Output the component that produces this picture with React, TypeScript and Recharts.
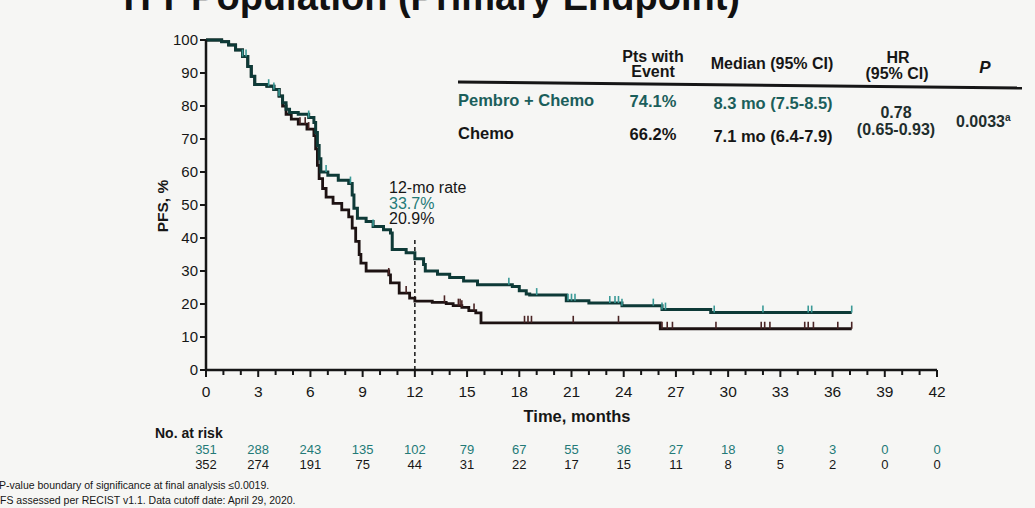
import { ComposedChart, Line, Scatter, XAxis, YAxis, ReferenceLine } from "recharts";

// Kaplan-Meier steps: [month, PFS %]
const pembroSteps: [number, number][] = [
  [0, 100], [0.9, 99.5], [1.3, 98.5], [1.7, 97], [2.1, 95], [2.4, 92], [2.6, 89], [2.8, 86.5],
  [3.5, 86], [3.9, 85], [4.2, 83], [4.4, 81], [4.6, 79], [4.8, 78], [5.3, 77.5], [5.9, 76.5],
  [6.2, 75], [6.3, 72], [6.4, 68], [6.5, 64], [6.6, 60], [7.0, 59], [7.6, 57.5], [8.2, 56.5],
  [8.4, 53], [8.5, 49], [8.7, 46], [9.2, 45], [9.6, 43.5], [10.2, 42.5], [10.6, 41.5],
  [10.7, 36.5], [11.5, 35.5], [12.0, 33.7], [12.5, 32], [12.6, 30], [13.3, 29], [14.0, 28],
  [14.8, 27], [15.6, 25.8], [17.6, 25.3], [18.0, 24], [18.4, 23], [18.6, 22.7], [20.7, 21],
  [22.0, 20.3], [23.9, 19.5], [26.2, 18.3], [29.0, 17.4], [37.1, 17.4],
];

const chemoSteps: [number, number][] = [
  [0, 100], [0.9, 99.5], [1.3, 98.5], [1.7, 97], [2.1, 95], [2.4, 92], [2.6, 89], [2.8, 86.5],
  [3.5, 86], [3.9, 85], [4.2, 83], [4.4, 80], [4.6, 77.5], [4.9, 76], [5.3, 74.5], [5.8, 73],
  [6.2, 71], [6.3, 67], [6.4, 62], [6.5, 58], [6.7, 55], [6.9, 52.4], [7.3, 50.5], [7.8, 48.5],
  [8.2, 46.4], [8.4, 43], [8.6, 39], [8.8, 35], [8.9, 32.4], [9.2, 30], [10.5, 28.8],
  [10.6, 26.4], [11.1, 23.3], [11.7, 21.8], [12.0, 20.9], [13.0, 20.5], [13.8, 20.1],
  [14.2, 19.5], [14.7, 19], [15.1, 18], [15.5, 17.3], [15.8, 14.3], [26.1, 12.5], [37.1, 12.5],
];

// censoring marks (months)
const pembroCensored = [
  2.1, 2.3, 3.6, 3.9, 4.2, 5.9, 6.9, 8.3, 9.6, 17.4, 19.0, 20.8, 21.0, 21.2, 23.2, 23.5,
  23.7, 23.9, 25.7, 26.2, 26.4, 29.2, 32.0, 34.6, 34.8, 37.1,
];
const chemoCensored = [
  5.4, 5.7, 5.9, 10.5, 11.5, 13.7, 14.5, 14.6, 14.7, 15.4, 18.3, 18.5, 18.7, 21.1, 23.7,
  26.2, 26.5, 26.8, 29.3, 31.9, 32.1, 32.4, 34.4, 34.6, 34.9, 36.3, 37.1,
];

const labelMonths = [0, 3, 6, 9, 12, 15, 18, 21, 24, 27, 30, 33, 36, 39, 42];
const riskPembro = [351, 288, 243, 135, 102, 79, 67, 55, 36, 27, 18, 9, 3, 0, 0];
const riskChemo = [352, 274, 191, 75, 44, 31, 22, 17, 15, 11, 8, 5, 2, 0, 0];
const yTicks = [0, 10, 20, 30, 40, 50, 60, 70, 80, 90, 100];

const TEAL = "#237a77";
const TEAL_DARK = "#1b5e5b";
const INK = "#161616";
const PLOT_BOTTOM = 370;

const allMonths = Array.from({ length: 43 }, (_, i) => i);

const toRows = (steps: [number, number][]) => steps.map(([t, v]) => ({ t, v }));

function survAt(steps: [number, number][], t: number) {
  let v = steps[0][1];
  for (const [st, sv] of steps) {
    if (st <= t) v = sv;
  }
  return v;
}

const pembroMarks = pembroCensored.map((t) => ({ t, v: survAt(pembroSteps, t) }));
const chemoMarks = chemoCensored.map((t) => ({ t, v: survAt(chemoSteps, t) }));

function MonthTick(props: any) {
  const { x, payload } = props;
  const m = payload.value;
  const idx = labelMonths.indexOf(m);
  const major = idx >= 0;
  return (
    <g>
      <line x1={x} x2={x} y1={PLOT_BOTTOM} y2={PLOT_BOTTOM + (major ? 7 : 5)} stroke={INK} strokeWidth={2} />
      {major && (
        <>
          <text x={x} y={PLOT_BOTTOM + 27} textAnchor="middle" fontSize={15.5} fill={INK}>
            {m}
          </text>
          <text x={x} y={PLOT_BOTTOM + 84} textAnchor="middle" fontSize={13} fill={TEAL}>
            {riskPembro[idx]}
          </text>
          <text x={x} y={PLOT_BOTTOM + 99} textAnchor="middle" fontSize={13} fill={INK}>
            {riskChemo[idx]}
          </text>
        </>
      )}
    </g>
  );
}

const censorShape = (color: string) => (p: any) => (
  <line x1={p.cx} x2={p.cx} y1={p.cy - 7} y2={p.cy} stroke={color} strokeWidth={1.6} />
);

export default function App() {
  return (
    <div
      style={{
        position: "fixed",
        top: 0,
        left: 0,
        width: 1035,
        height: 508,
        background: "#f6f6f4",
        fontFamily: "'Liberation Sans', Arial, sans-serif",
        overflow: "hidden",
      }}
    >
      <ComposedChart width={1035} height={508} margin={{ top: 40, right: 98, bottom: 108, left: 156 }}>
        <XAxis
          type="number"
          dataKey="t"
          domain={[0, 42]}
          ticks={allMonths}
          interval={0}
          tick={<MonthTick />}
          tickLine={false}
          axisLine={{ stroke: INK, strokeWidth: 2.5 }}
          height={30}
        />
        <YAxis
          type="number"
          dataKey="v"
          domain={[0, 100]}
          ticks={yTicks}
          width={50}
          tickSize={6}
          tick={{ fontSize: 15, fill: INK }}
          tickLine={{ stroke: INK, strokeWidth: 2 }}
          axisLine={{ stroke: INK, strokeWidth: 2.5 }}
        />
        <ReferenceLine
          segment={[{ x: 12, y: 0 }, { x: 12, y: 39.5 }]}
          stroke={INK}
          strokeWidth={1.5}
          strokeDasharray="4 3"
        />
        <Line
          data={toRows(chemoSteps)}
          dataKey="v"
          type="stepAfter"
          stroke="#1d1212"
          strokeWidth={2.8}
          dot={false}
          isAnimationActive={false}
        />
        <Line
          data={toRows(pembroSteps)}
          dataKey="v"
          type="stepAfter"
          stroke="#0e3a37"
          strokeWidth={3}
          dot={false}
          isAnimationActive={false}
        />
        <Scatter data={chemoMarks} dataKey="v" shape={censorShape("#4a2424")} isAnimationActive={false} />
        <Scatter data={pembroMarks} dataKey="v" shape={censorShape("#3b9a97")} isAnimationActive={false} />
      </ComposedChart>

      <svg width={1035} height={508} style={{ position: "absolute", top: 0, left: 0, pointerEvents: "none" }}>
        <text x={740} y={10} textAnchor="end" fontSize={38} fontWeight={700} fill="#111">
          ITT Population (Primary Endpoint)
        </text>

        {/* summary table */}
        <g fontWeight={700} fill={INK} fontSize={16}>
          <text x={653} y={62} textAnchor="middle">Pts with</text>
          <text x={653} y={77} textAnchor="middle">Event</text>
          <text x={772} y={69} textAnchor="middle">Median (95% CI)</text>
          <text x={898} y={63} textAnchor="middle">HR</text>
          <text x={897} y={79} textAnchor="middle">(95% CI)</text>
          <text x={985} y={73} textAnchor="middle" fontSize={17} fontStyle="italic">P</text>
        </g>
        <line x1={458} y1={82} x2={1022} y2={88} stroke={INK} strokeWidth={3} />
        <g fontWeight={700} fontSize={16.5}>
          <text x={458} y={106} fill={TEAL_DARK}>Pembro + Chemo</text>
          <text x={653} y={107} textAnchor="middle" fill={TEAL_DARK}>74.1%</text>
          <text x={773} y={109} textAnchor="middle" fill={TEAL_DARK}>8.3 mo (7.5-8.5)</text>
          <text x={458} y={139} fill={INK}>Chemo</text>
          <text x={653} y={140} textAnchor="middle" fill={INK}>66.2%</text>
          <text x={773} y={142} textAnchor="middle" fill={INK}>7.1 mo (6.4-7.9)</text>
        </g>
        <g fontWeight={700} fontSize={16} fill="#1f2e2d">
          <text x={896} y={118} textAnchor="middle">0.78</text>
          <text x={896} y={135} textAnchor="middle">(0.65-0.93)</text>
          <text x={956} y={127}>
            0.0033<tspan fontSize={10} dy={-6}>a</tspan>
          </text>
        </g>

        {/* 12-month annotation */}
        <g fontSize={16}>
          <text x={389} y={193} fill={INK}>12-mo rate</text>
          <text x={389} y={209} fill={TEAL}>33.7%</text>
          <text x={389} y={224} fill={INK}>20.9%</text>
        </g>

        <text
          x={168}
          y={206}
          transform="rotate(-90 168 206)"
          textAnchor="middle"
          fontSize={15.5}
          fontWeight={700}
          fill={INK}
        >
          PFS, %
        </text>
        <text x={577} y={422} textAnchor="middle" fontSize={16.5} fontWeight={700} fill={INK}>
          Time, months
        </text>
        <text x={155} y={438} fontSize={14} fontWeight={700} fill={INK}>
          No. at risk
        </text>

        <g fontSize={10.5} fill={INK}>
          <text x={-1} y={489}>P-value boundary of significance at final analysis ≤0.0019.</text>
          <text x={-7} y={504}>PFS assessed per RECIST v1.1. Data cutoff date: April 29, 2020.</text>
        </g>
      </svg>
    </div>
  );
}
